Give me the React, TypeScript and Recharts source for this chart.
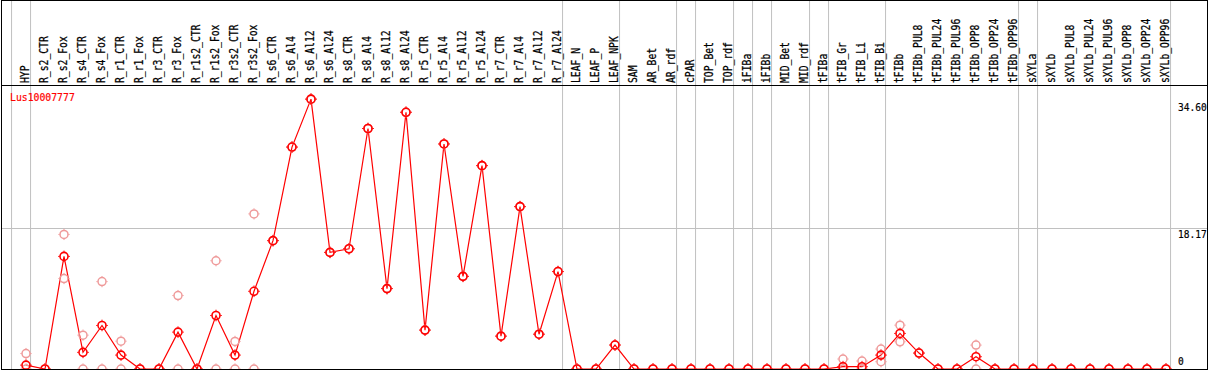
import React from 'react';
import { ComposedChart, Line, XAxis, YAxis, ReferenceLine } from 'recharts';

const categories = [
  'HYP', 'R_s2_CTR', 'R_s2_Fox', 'R_s4_CTR', 'R_s4_Fox', 'R_r1_CTR', 'R_r1_Fox', 'R_r3_CTR', 'R_r3_Fox',
  'R_r1s2_CTR', 'R_r1s2_Fox', 'R_r3s2_CTR', 'R_r3s2_Fox', 'R_s6_CTR', 'R_s6_Al4', 'R_s6_Al12', 'R_s6_Al24',
  'R_s8_CTR', 'R_s8_Al4', 'R_s8_Al12', 'R_s8_Al24', 'R_r5_CTR', 'R_r5_Al4', 'R_r5_Al12', 'R_r5_Al24',
  'R_r7_CTR', 'R_r7_Al4', 'R_r7_Al12', 'R_r7_Al24', 'LEAF_N', 'LEAF_P', 'LEAF_NPK', 'SAM', 'AR_Bet', 'AR_rdf',
  'cPAR', 'TOP_Bet', 'TOP_rdf', 'iFIBa', 'iFIBb', 'MID_Bet', 'MID_rdf', 'tFIBa', 'tFIB_Gr', 'tFIB_Li', 'tFIB_Bi',
  'tFIBb', 'tFIBb_PUL8', 'tFIBb_PUL24', 'tFIBb_PUL96', 'tFIBb_OPP8', 'tFIBb_OPP24', 'tFIBb_OPP96', 'sXYLa',
  'sXYLb', 'sXYLb_PUL8', 'sXYLb_PUL24', 'sXYLb_PUL96', 'sXYLb_OPP8', 'sXYLb_OPP24', 'sXYLb_OPP96',
];

const meanValues = [
  0.5, 0, 14.56, 2.15, 5.63, 1.8, 0, 0, 4.77, 0, 6.92, 1.8, 10.05,
  16.6, 28.7, 34.9, 15.08, 15.55, 31.1, 10.4, 33.2, 5.03, 29.1, 11.98, 26.3, 4.25, 21.0, 4.5, 12.6,
  0, 0, 3.1, 0, 0, 0, 0, 0, 0, 0, 0, 0, 0, 0,
  0.3, 0.3, 1.8, 4.6, 2.06, 0, 0, 1.59, 0, 0, 0,
  0, 0, 0, 0, 0, 0, 0,
];

const rep1 = [
  2.0, 0, 17.4, 4.38, 11.3, 3.6, 0, 0, 9.5, 0, 14.0, 3.57, 20.06,
  16.6, 28.7, 34.9, 15.08, 15.55, 31.1, 10.4, 33.2, 5.03, 29.1, 11.98, 26.3, 4.25, 21.0, 4.5, 12.6,
  0, 0, 3.1, 0, 0, 0, 0, 0, 0, 0, 0, 0, 0, 0,
  1.29, 1.03, 2.58, 5.67, 2.06, 0, 0, 3.09, 0, 0, 0,
  0, 0, 0, 0, 0, 0, 0,
];

const rep2 = [
  0, 0, 11.7, 0, 0, 0, 0, 0, 0, 0, 0, 0, 0,
  16.6, 28.7, 34.9, 15.08, 15.55, 31.1, 10.4, 33.2, 5.03, 29.1, 11.98, 26.3, 4.25, 21.0, 4.5, 12.6,
  0, 0, 3.1, 0, 0, 0, 0, 0, 0, 0, 0, 0, 0, 0,
  0, 0, 0.94, 3.52, 2.06, 0, 0, 0, 0, 0, 0,
  0, 0, 0, 0, 0, 0, 0,
];

// group boundaries: a separator follows each of these category indices
const groupEnds = [-1, 0, 28, 31, 34, 35, 37, 38, 39, 41, 42, 45, 52, 53, 60];
const yTicks = [0, 18.17, 34.6];
const gridValue = 18.17;
const title = 'Lus10007777';

const data = categories.map((c, i) => ({ i, name: c, mean: meanValues[i], r1: rep1[i], r2: rep2[i] }));

const W = 1209;
const H = 370;
const X_MIN = -25 / 19;
const X_MAX = X_MIN + 1206 / 19;
const Y_MAX = 47.59;
const HEADER_VALUE = 36.66;
const SEP_OFFSET = 0.24;
const FONT = '"DejaVu Sans Mono", "Liberation Mono", monospace';

const MainDot = (props: any) => {
  const { cx, cy, index } = props;
  if (cx == null || cy == null) return <g key={`m${index}`} />;
  return (
    <g key={`m${index}`}>
      <circle cx={cx} cy={cy} r={4} fill="none" stroke="#ff0000" strokeWidth={1.6} />
      <path
        d={`M${cx} ${cy - 5.8}v1.4M${cx} ${cy + 4.4}v1.4M${cx - 5.8} ${cy}h1.4M${cx + 4.4} ${cy}h1.4`}
        stroke="#ff0000"
        strokeWidth={1}
      />
    </g>
  );
};

const RepDot = (props: any) => {
  const { cx, cy, index, dataKey } = props;
  if (cx == null || cy == null) return <g key={`${dataKey}${index}`} />;
  return (
    <g key={`${dataKey}${index}`}>
      <circle cx={cx} cy={cy} r={4} fill="none" stroke="#ef9a9a" strokeWidth={1.5} />
      <path
        d={`M${cx} ${cy - 5.6}v1.2M${cx} ${cy + 4.4}v1.2M${cx - 5.6} ${cy}h1.2M${cx + 4.4} ${cy}h1.2`}
        stroke="#ef9a9a"
        strokeWidth={1}
      />
    </g>
  );
};

const TopTick = (props: any) => {
  const { x, payload } = props;
  const label = categories[payload.value];
  if (label == null) return <g />;
  return (
    <text
      transform={`translate(${x + 3},83) rotate(-90) scale(0.81,1)`}
      x={0}
      y={0}
      textAnchor="start"
      fontFamily={FONT}
      fontSize={12}
      fill="#000"
      stroke="#000"
      strokeWidth={0.25}
    >
      {label}
    </text>
  );
};

const RightTick = (props: any) => {
  const { x, y, payload } = props;
  const v = payload.value as number;
  const label = v === 0 ? '0' : v.toFixed(2);
  const base = v === 0 ? y - 4 : y + 10;
  return (
    <text
      transform={`translate(${x - 29},${base}) scale(0.87,1)`}
      x={0}
      y={0}
      textAnchor="start"
      fontFamily={FONT}
      fontSize={11}
      fill="#000"
      stroke="#000"
      strokeWidth={0.2}
    >
      {label}
    </text>
  );
};

export default function App() {
  return (
    <div style={{ position: 'absolute', left: 0, top: 0, width: W, height: H, background: '#fff' }}>
      <ComposedChart
        width={W}
        height={H}
        data={data}
        margin={{ top: 0, right: 1, bottom: 1, left: 1 }}
      >
        <XAxis
          xAxisId={0}
          dataKey="i"
          type="number"
          orientation="top"
          domain={[X_MIN, X_MAX]}
          allowDataOverflow
          ticks={categories.map((_, i) => i)}
          interval={0}
          height={1}
          axisLine={false}
          tickLine={false}
          tick={TopTick}
        />
        <YAxis
          yAxisId={0}
          orientation="right"
          type="number"
          domain={[0, Y_MAX]}
          allowDataOverflow
          ticks={yTicks}
          interval={0}
          width={1}
          tickSize={0}
          tickMargin={0}
          axisLine={false}
          tickLine={false}
          tick={RightTick}
        />
        {groupEnds.map((g) => (
          <ReferenceLine
            key={`sep${g}`}
            x={g + SEP_OFFSET}
            stroke="#c0c0c0"
            strokeWidth={1}
            ifOverflow="visible"
          />
        ))}
        <ReferenceLine y={gridValue} stroke="#c0c0c0" strokeWidth={1} ifOverflow="visible" />
        <ReferenceLine y={HEADER_VALUE} stroke="#000" strokeWidth={1.2} ifOverflow="visible" />
        <Line
          dataKey="r1"
          stroke="none"
          dot={RepDot}
          activeDot={false}
          isAnimationActive={false}
          legendType="none"
        />
        <Line
          dataKey="r2"
          stroke="none"
          dot={RepDot}
          activeDot={false}
          isAnimationActive={false}
          legendType="none"
        />
        <Line
          dataKey="mean"
          type="linear"
          stroke="#ff0000"
          strokeWidth={1.2}
          dot={MainDot}
          activeDot={false}
          isAnimationActive={false}
        />
      </ComposedChart>
      <svg
        width={W}
        height={H}
        style={{ position: 'absolute', left: 0, top: 0, pointerEvents: 'none' }}
      >
        <text
          transform="translate(10,101) scale(0.89,1)"
          fontFamily={FONT}
          fontSize={11}
          fill="#ff0000"
          stroke="#ff0000"
          strokeWidth={0.2}
        >
          {title}
        </text>
      </svg>
      <div
        style={{
          position: 'absolute',
          left: 1,
          top: 0,
          width: 1207,
          height: 370,
          boxSizing: 'border-box',
          border: '1px solid #000',
          pointerEvents: 'none',
        }}
      />
    </div>
  );
}
